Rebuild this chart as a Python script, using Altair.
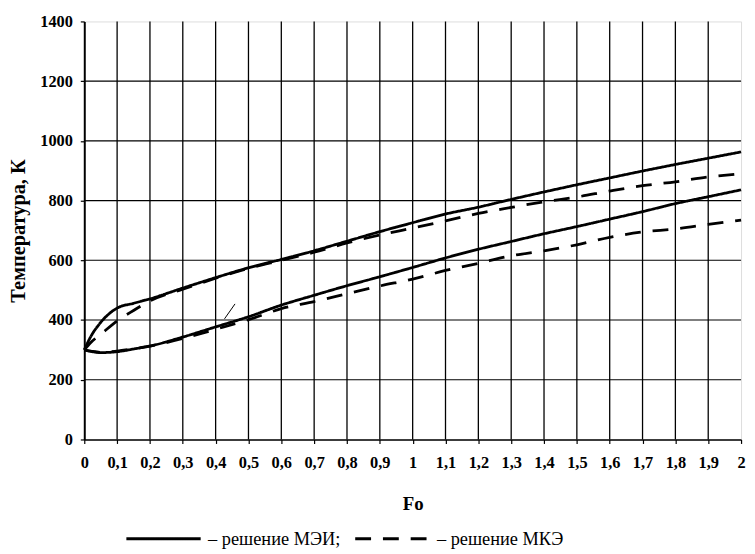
import altair as alt
import pandas as pd

# Fo values (x) at which curves were read
fo = [0, 0.02, 0.05, 0.1, 0.15, 0.2, 0.3, 0.4, 0.5, 0.6, 0.7, 0.8, 0.9, 1.0,
      1.1, 1.2, 1.3, 1.4, 1.5, 1.6, 1.7, 1.8, 1.9, 2.0]

# Temperatures, K
mei_upper = [300, 345, 392, 440, 456, 471, 507, 542, 575, 603, 632, 664, 696, 726,
             755, 778, 804, 829, 853, 876, 899, 921, 942, 963]
mke_upper = [300, 325, 352, 397, 432, 464, 503, 540, 573, 600, 627, 658, 685, 708,
             732, 757, 777, 796, 812, 832, 850, 863, 879, 890]
mei_lower = [300, 295, 291, 294, 303, 313, 343, 377, 411, 450, 483, 515, 545, 576,
             608, 637, 663, 689, 713, 738, 763, 790, 813, 836]
mke_lower = [300, 296, 292, 296, 304, 313, 338, 369, 401, 438, 462, 488, 514, 537,
             566, 590, 615, 632, 652, 677, 695, 705, 720, 735]

# small leader stroke seen in the figure
leader_fo = [0.427, 0.459]
leader_t = [404, 454]

methods = ["– решение МЭИ;", "– решение МКЭ"]

x_ticks = [round(i * 0.1, 1) for i in range(21)]
x_grid = [round(i * 0.1, 1) for i in range(1, 20)]
y_ticks = [0, 200, 400, 600, 800, 1000, 1200, 1400]
y_grid = [200, 400, 600, 800, 1000, 1200]

rows = []
for name, vals, meth in [("mei_u", mei_upper, methods[0]), ("mke_u", mke_upper, methods[1]),
                         ("mei_l", mei_lower, methods[0]), ("mke_l", mke_lower, methods[1])]:
    for f, t in zip(fo, vals):
        rows.append({"fo": f, "T": t, "method": meth, "curve": name})
df = pd.DataFrame(rows)

FONT = "Liberation Serif"

x_scale = alt.Scale(domain=[0, 2], nice=False, zero=False)
y_scale = alt.Scale(domain=[0, 1400], nice=False)

x_axis = alt.Axis(values=x_ticks, grid=False, title="Fo",
                  labelExpr="replace(format(datum.value, '.1~f'), '.', ',')",
                  labelFont=FONT, labelFontSize=16.5, labelFontWeight="bold", labelColor="black",
                  labelPadding=11, labelFlush=False, labelOverlap=False,
                  tickSize=4, tickColor="black", tickWidth=1.2,
                  domainColor="black", domainWidth=1.5,
                  titleFont=FONT, titleFontSize=19, titleFontWeight="bold", titleColor="black",
                  titleBaseline="alphabetic", titleY=71)
y_axis = alt.Axis(values=y_ticks, grid=False, title="Температура, К", format="d",
                  labelFont=FONT, labelFontSize=16.5, labelFontWeight="bold", labelColor="black",
                  labelPadding=8, tickSize=4, tickColor="black", tickWidth=1.2,
                  domainColor="black", domainWidth=2,
                  titleFont=FONT, titleFontSize=20.5, titleFontWeight="bold", titleColor="black",
                  titleX=-66, titleY=211, titleAngle=270, titleAlign="center",
                  titleBaseline="middle")

vgrid = alt.Chart(pd.DataFrame({"fo": x_grid})).mark_rule(
    color="black", strokeWidth=1.3).encode(
    x=alt.X("fo:Q", scale=x_scale, axis=x_axis))
hgrid = alt.Chart(pd.DataFrame({"T": y_grid})).mark_rule(
    color="black", strokeWidth=1.1).encode(
    y=alt.Y("T:Q", scale=y_scale, axis=y_axis))

lines = alt.Chart(df).mark_line(color="black", strokeWidth=2.8, interpolate="monotone").encode(
    x=alt.X("fo:Q", scale=x_scale, axis=x_axis),
    y=alt.Y("T:Q", scale=y_scale, axis=y_axis),
    strokeDash=alt.StrokeDash(
        "method:N",
        scale=alt.Scale(domain=methods, range=[[1, 0], [16, 12]]),
        legend=alt.Legend(title=None, orient="none", legendX=41, legendY=483,
                          direction="horizontal", symbolType="stroke", symbolSize=5625,
                          symbolStrokeWidth=3, symbolStrokeColor="black",
                          labelFont=FONT, labelFontSize=18.5, labelColor="black",
                          labelOffset=6, columnPadding=8, labelLimit=400, padding=0)),
    detail="curve:N",
    order="fo:Q",
)

leader = alt.Chart(pd.DataFrame({"fo": leader_fo, "T": leader_t})).mark_line(
    color="black", strokeWidth=1).encode(
    x=alt.X("fo:Q", scale=x_scale, axis=x_axis),
    y=alt.Y("T:Q", scale=y_scale, axis=y_axis))

chart = alt.layer(vgrid, hgrid, lines, leader).properties(
    width=663, height=422,
    autosize=alt.AutoSizeParams(type="none"),
    padding={"left": 77, "top": 11, "right": 6, "bottom": 109},
).configure_view(stroke=None).configure(font=FONT, background="white")

chart.save("out.html", embed_options={"renderer": "svg", "actions": False})
